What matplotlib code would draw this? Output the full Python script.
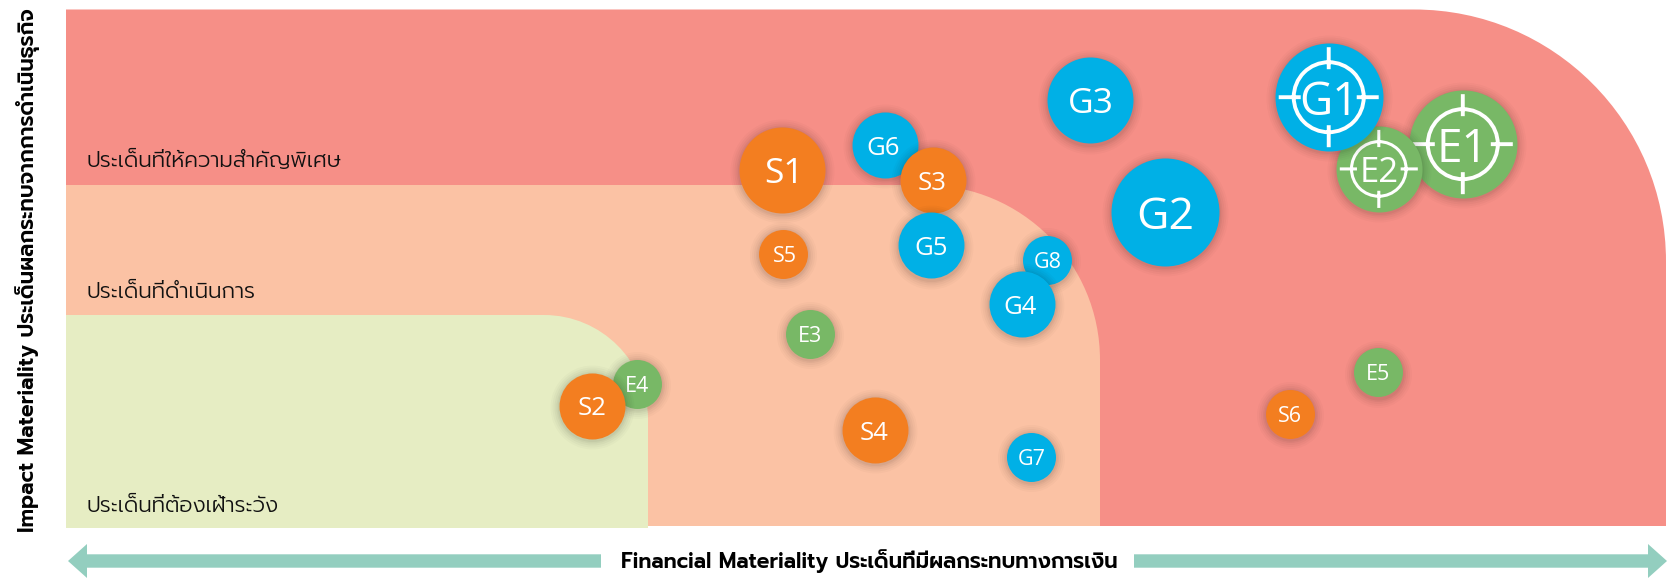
import numpy as np
import matplotlib
matplotlib.use("Agg")
import matplotlib.pyplot as plt
from matplotlib import font_manager as fm
from matplotlib.path import Path
from matplotlib.patches import PathPatch, FancyArrow

names = {f.name for f in fm.fontManager.ttflist}
THAI = [n for n in ["Prompt", "Kanit"] if n in names] + ["Noto Sans Thai", "DejaVu Sans"]

# ---------- data ----------
labels = ["G6", "S3", "S1", "S5", "G5", "G8", "G4", "E3", "E4", "S2", "S4", "G7",
          "G3", "G2", "E1", "E2", "G1", "E5", "S6"]
financial = [51.2, 54.2, 44.75, 44.8, 54.08, 61.3, 59.74, 46.5, 35.7, 32.9, 50.55, 60.3,
             64.0, 68.68, 87.3, 82.05, 78.92, 82.0, 76.5]
impact = [73.8, 67.05, 69.0, 52.7, 54.4, 51.6, 43.0, 37.2, 27.5, 23.3, 18.6, 13.4,
          82.5, 60.9, 74.0, 69.2, 83.1, 29.8, 21.7]
weight = [2, 2, 3, 1, 2, 1, 2, 1, 1, 2, 2, 1, 3, 4, 4, 3, 4, 1, 1]
targets = ["G1", "E1", "E2"]
zone_names = ["ประเด็นที่ให้ความสำคัญพิเศษ", "ประเด็นที่ดำเนินการ", "ประเด็นที่ต้องเฝ้าระวัง"]
x_title = "Financial Materiality ประเด็นที่มีผลกระทบทางการเงิน"
y_title = "Impact Materiality ประเด็นผลกระทบจากการดำเนินธุรกิจ"

# ---------- style ----------
W, H = 1677, 578
PT = 0.72  # points per pixel at dpi=100
BLUE, ORANGE, GREEN = "#00B0E6", "#F37E20", "#78B866"
pillar = {"G": BLUE, "S": ORANGE, "E": GREEN}
radius_px = {1: 24.5, 2: 33, 3: 43, 4: 54}
label_pt = {1: 15.5, 2: 18.5, 3: 25.5, 4: 32}
target_pt = {3: 25, 4: 33}
text_nudge_px = {"G6": -2, "S1": 2, "S3": -1, "G4": -1.5, "S5": 2, "S4": -0.5, "G3": 1, "G8": 1, "G7": 1}

fig = plt.figure(figsize=(W / 100, H / 100), dpi=100, facecolor="white")
bg = fig.add_axes([0, 0, 1, 1])
bg.set_xlim(0, W)
bg.set_ylim(H, 0)
bg.axis("off")


def zone(x0, y0, x1, y1, r, color):
    k = 0.5523 * r
    verts = [(x0, y1), (x0, y0), (x1 - r, y0),
             (x1 - r + k, y0), (x1, y0 + r - k), (x1, y0 + r),
             (x1, y1), (x0, y1)]
    codes = [Path.MOVETO, Path.LINETO, Path.LINETO,
             Path.CURVE4, Path.CURVE4, Path.CURVE4,
             Path.LINETO, Path.CLOSEPOLY]
    bg.add_patch(PathPatch(Path(verts, codes), fc=color, ec="none"))


zone(66, 9.5, 1666, 526, 252, "#F68F87")
zone(66, 185, 1100, 526, 175, "#FBC2A4")
zone(66, 315, 648, 528, 104, "#E6EDC3")

for name, y in zip(zone_names, [161, 292, 506]):
    bg.text(87, y, name, fontsize=15.6, family=THAI, fontweight=300, color="#111111", va="center", ha="left")

ARROW = "#93CEBF"
for xs, dx in ((601, -533), (1134, 533)):
    bg.add_patch(FancyArrow(xs, 561, dx, 0, width=13.4, head_width=34, head_length=19,
                            length_includes_head=True, fc=ARROW, ec="none"))
bg.text(869, 561, x_title, fontsize=15.2, fontweight=600, family=THAI, color="black",
        ha="center", va="center")
bg.text(28, 270.5, y_title, fontsize=15.25, fontweight=600, family=THAI, color="black",
        rotation=90, ha="center", va="center")

# ---------- bubbles ----------
ax = fig.add_axes([66 / W, 1 - 526 / H, 1600 / W, 516 / H])
ax.set_xlim(0, 100)
ax.set_ylim(0, 100)
ax.axis("off")
ax.patch.set_alpha(0)

ring = Path.unit_circle()
vs, cs = [ring.vertices * 0.70], [ring.codes]
for d in ((1, 0), (-1, 0), (0, 1), (0, -1)):
    vs.append(np.array([[0.56 * d[0], 0.56 * d[1]], [d[0], d[1]]]))
    cs.append(np.array([Path.MOVETO, Path.LINETO]))
crosshair = Path(np.vstack(vs), np.concatenate(cs))

z = 2
for lab, xv, yv, w in zip(labels, financial, impact, weight):
    r = radius_px[w]
    for extra, alpha in zip((9, 7, 5, 3, 1.5), (0.018, 0.022, 0.028, 0.035, 0.04)):
        ax.scatter([xv], [yv - 0.25], s=(2 * (r + extra) * PT) ** 2, color="black", alpha=alpha,
                   linewidths=0, zorder=z, clip_on=False)
    ax.scatter([xv], [yv], s=(2 * r * PT) ** 2, color=pillar[lab[0]], linewidths=0,
               zorder=z + 0.1, clip_on=False)
    size = target_pt[w] if lab in targets else label_pt[w]
    if lab in targets:
        ax.scatter([xv], [yv], s=(2 * (r - 4) * PT) ** 2, marker=crosshair, facecolors="none",
                   edgecolors="white", linewidths=2.8 if w == 4 else 2.2, zorder=z + 0.2, clip_on=False)
    ax.annotate(lab, (xv, yv), xytext=(text_nudge_px.get(lab, 0) * PT, 0), textcoords="offset points",
                fontsize=size, family="Open Sans", color="white", ha="center",
                va="center_baseline", zorder=z + 0.3)
    z += 1

fig.savefig("out.png", dpi=100)
